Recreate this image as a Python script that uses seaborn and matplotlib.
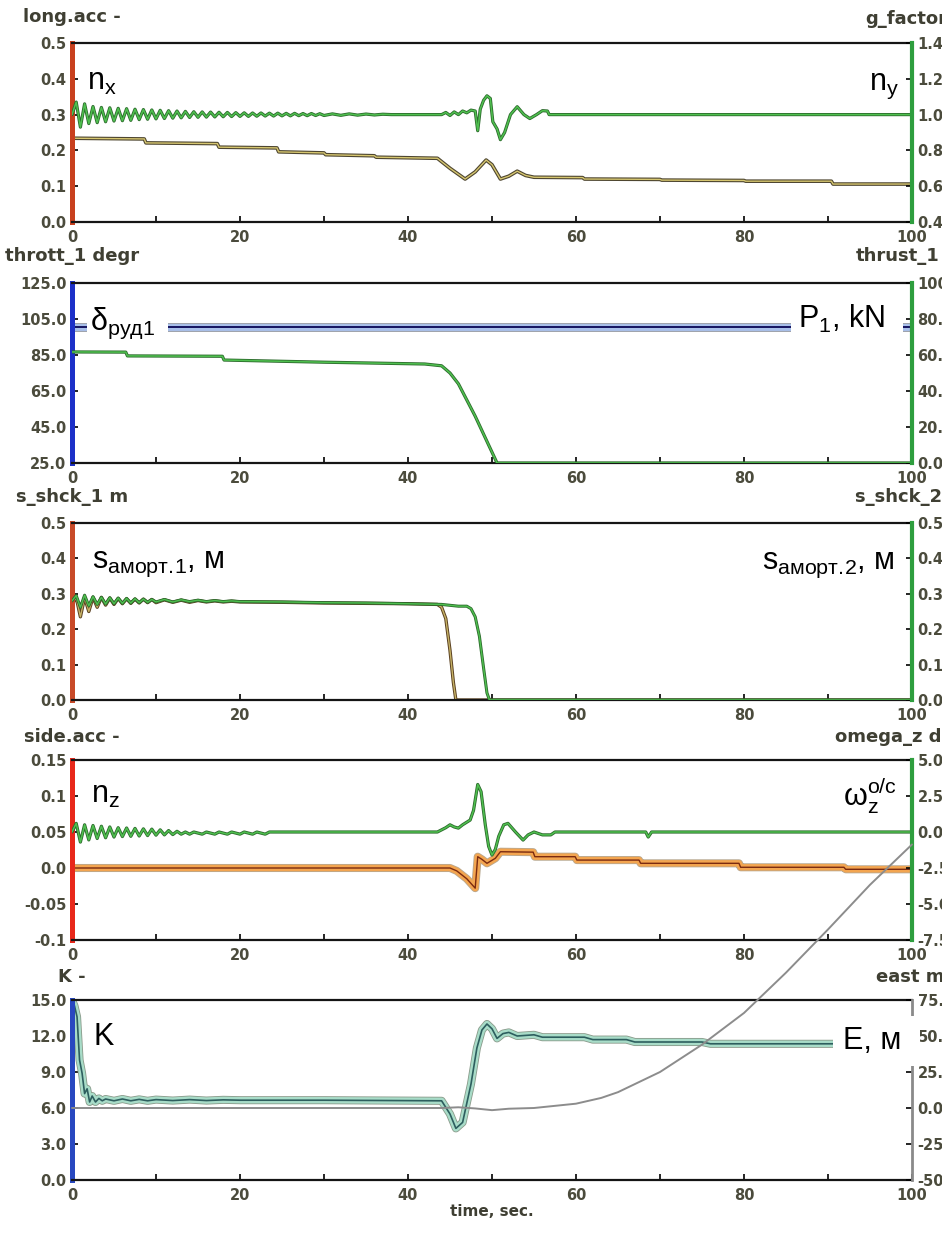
import matplotlib
matplotlib.use("Agg")
import matplotlib.pyplot as plt
import matplotlib.patheffects as pe
import seaborn as sns

# ---- values ----
time_ticks = [0, 20, 40, 60, 80, 100]
time_minor = [10, 30, 50, 70, 90]

# panel 1: long.acc (left) / g_factor (right)
nx_t = [0, 8.6, 8.8, 17.3, 17.5, 24.4, 24.6, 30.0, 30.2, 36.0, 36.2, 43.5,
        45.0, 46.8, 48.0, 49.3, 50.0, 51.0, 52.0, 53.0, 54.0, 55.0,
        60.8, 61.0, 70.0, 70.2, 80.0, 80.2, 90.4, 90.6, 100]
nx_v = [0.234, 0.232, 0.221, 0.219, 0.209, 0.207, 0.196, 0.193, 0.188, 0.185, 0.181, 0.178,
        0.15, 0.12, 0.14, 0.173, 0.16, 0.12, 0.128, 0.142, 0.13, 0.125,
        0.124, 0.12, 0.119, 0.117, 0.116, 0.114, 0.114, 0.106, 0.106]
gf_t = [0.0, 0.5, 1.0, 1.5, 2.0, 2.5, 3.0, 3.5, 4.0, 4.5, 5.0, 5.5, 6.0, 6.5, 7.0, 7.5,
        8.0, 8.5, 9.0, 9.5, 10.0, 10.5, 11.0, 11.5, 12.0, 12.5, 13.0, 13.5, 14.0, 14.5,
        15.0, 15.5, 16.0, 16.5, 17.0, 17.5, 18.0, 18.5, 19.0, 19.5, 20.0,
        20.5, 21.0, 21.5, 22.0, 22.5, 23.0, 23.5, 24.0, 24.5, 25.0, 25.5, 26.0, 26.5,
        27.0, 27.5, 28.0, 28.5, 29.0, 29.5, 30.0,
        31, 32, 33, 34, 35, 36, 37, 38,
        44.0, 44.5, 45.0, 45.5, 46.0, 46.5, 47.0, 47.5, 48.0, 48.3, 48.6, 49.0, 49.4,
        49.8, 50.1, 50.6, 51.0, 51.5, 52.2, 53.0, 53.8, 54.5, 55.3, 56.0, 56.6, 56.8, 100]
gf_v = [1.00, 1.07, 0.93, 1.06, 0.95, 1.045, 0.955, 1.04, 0.96, 1.038, 0.964, 1.035,
        0.966, 1.033, 0.968, 1.03, 0.972, 1.028, 0.974, 1.026, 0.976, 1.024, 0.978,
        1.022, 0.98, 1.02, 0.982, 1.018, 0.984, 1.016, 0.985, 1.015, 0.986, 1.014,
        0.987, 1.013, 0.988, 1.012, 0.989, 1.011, 0.99,
        1.01, 0.99, 1.009, 0.991, 1.009, 0.992, 1.008, 0.992, 1.008, 0.993, 1.007,
        0.993, 1.007, 0.994, 1.006, 0.994, 1.006, 0.995, 1.005, 0.995,
        1.004, 0.996, 1.004, 0.997, 1.003, 0.998, 1.002, 1.0,
        1.0, 1.012, 0.995, 1.015, 1.0, 1.02, 1.01, 1.025, 1.02, 0.91, 1.03, 1.08, 1.105,
        1.09, 0.96, 0.92, 0.86, 0.9, 1.0, 1.044, 1.0, 0.978, 1.0, 1.022, 1.02, 1.0, 1.0]

# panel 2: thrott_1 (left) / thrust_1 (right)
thr_t = [0, 100]
thr_v = [100.5, 100.5]
th_t = [0, 6.4, 6.6, 17.9, 18.1, 30, 42, 44, 45, 46, 47, 48, 49, 50, 50.6, 100]
th_v = [61.7, 61.6, 59.5, 59.3, 57.2, 56, 55, 54, 50, 44, 35, 26, 16, 6, 0, 0]

# panel 3: s_shck_1 (left) / s_shck_2 (right)
s1_t = [0, 0.5, 1.0, 1.5, 2.0, 2.5, 3.0, 3.5, 4.0, 4.5, 5.0, 5.5, 6.0, 6.5, 7.0, 7.5,
        8.0, 8.5, 9.0, 9.5, 10, 11, 12, 13, 14, 15, 16, 17, 18, 19, 20, 25, 30, 35, 40,
        43.5, 44.0, 44.5, 45.0, 45.4, 45.7, 100]
s1_v = [0.27, 0.29, 0.235, 0.29, 0.25, 0.29, 0.262, 0.29, 0.268, 0.288, 0.27, 0.287,
        0.272, 0.286, 0.273, 0.285, 0.274, 0.285, 0.275, 0.284,
        0.275, 0.283, 0.276, 0.282, 0.276, 0.281, 0.277, 0.28, 0.277, 0.279, 0.277,
        0.276, 0.274, 0.273, 0.272,
        0.27, 0.262, 0.23, 0.14, 0.05, 0.0, 0.0]
s2_t = [0, 0.5, 1.0, 1.5, 2.0, 2.5, 3.0, 3.5, 4.0, 4.5, 5.0, 5.5, 6.0, 6.5, 7.0, 7.5,
        8.0, 8.5, 9.0, 9.5, 10, 11, 12, 13, 14, 15, 16, 17, 18, 19, 20, 25, 30, 35, 40,
        44, 46, 47.0, 47.5, 48.0, 48.5, 49.0, 49.4, 49.7, 100]
s2_v = [0.28, 0.295, 0.262, 0.296, 0.266, 0.292, 0.27, 0.29, 0.271, 0.289, 0.272, 0.288,
        0.273, 0.287, 0.274, 0.286, 0.275, 0.285, 0.276, 0.284,
        0.277, 0.284, 0.277, 0.283, 0.278, 0.282, 0.278, 0.281, 0.278, 0.28, 0.278,
        0.277, 0.275, 0.274, 0.272,
        0.27, 0.265, 0.265, 0.258, 0.235, 0.18, 0.09, 0.02, 0.0, 0.0]

# panel 4: side.acc (left) / omega_z (right)
nz_t = [0, 45.0, 45.8, 47.0, 48.0, 48.3, 48.8, 49.4, 50.4, 51.0, 54.9, 55.1, 59.9, 60.1,
        67.5, 67.7, 79.4, 79.6, 91.9, 92.1, 100]
nz_v = [0.0, 0.0, -0.004, -0.015, -0.028, 0.0157, 0.012, 0.0065, 0.0135, 0.0226, 0.022,
        0.0157, 0.0157, 0.011, 0.011, 0.0065, 0.0065, 0.001, 0.001, -0.0018, -0.0018]
wz_t = [0, 0.5, 1.0, 1.5, 2.0, 2.5, 3.0, 3.5, 4.0, 4.5, 5.0, 5.5, 6.0, 6.5, 7.0, 7.5,
        8.0, 8.5, 9.0, 9.5, 10.0, 10.5, 11.0, 11.5, 12.0, 12.5, 13.0, 13.5, 14.0, 14.5,
        15.5, 16.0, 17.0, 17.5, 18.5, 19.0, 20.0, 20.5, 21.5, 22.0, 23.0, 23.5,
        43.5, 44.5, 45.0, 45.5, 46.0, 46.5, 47.4, 47.8, 48.3, 48.7, 49.2, 49.6, 50.0,
        50.4, 50.8, 51.4, 51.9, 52.8, 53.7, 54.3, 55.0, 56.0, 57.0, 57.5, 68.3, 68.6,
        69.0, 100]
wz_v = [0.0, 0.6, -0.7, 0.5, -0.55, 0.45, -0.45, 0.4, -0.4, 0.35, -0.35, 0.3, -0.32,
        0.28, -0.3, 0.25, -0.28, 0.22, -0.25, 0.2, -0.22, 0.15, -0.2, 0.1, -0.18, 0.05,
        -0.15, 0.0, -0.15, 0.0,
        -0.15, 0.0, -0.15, 0.0, -0.15, 0.0, -0.15, 0.0, -0.15, 0.0, -0.15, 0.0,
        0.0, 0.3, 0.5, 0.35, 0.27, 0.5, 0.83, 1.5, 3.3, 2.8, 0.5, -1.0, -1.6, -1.2,
        -0.3, 0.5, 0.6, 0.0, -0.56, -0.2, 0.0, -0.2, -0.2, 0.0, 0.0, -0.35, 0.0, 0.0]

# panel 5: K (left) / east (right)
k_t = [0, 0.3, 0.6, 0.9, 1.2, 1.5, 1.8, 2.1, 2.4, 2.8, 3.2, 3.6, 4.0,
       5, 6, 7, 8, 9, 10, 12, 14, 16, 18, 20, 30,
       44.0, 45.0, 45.7, 46.5, 47.5, 48.2, 48.8, 49.4, 50.0, 50.6, 51.3, 52.0, 53.0,
       55.0, 56.0, 61.0, 62.0, 66.0, 67.0, 75.0, 76.0, 100]
k_v = [15.0, 14.5, 13.6, 10.0, 8.9, 7.2, 7.6, 6.5, 7.0, 6.5, 6.8, 6.6, 6.75,
       6.6, 6.75, 6.6, 6.72, 6.6, 6.7, 6.62, 6.7, 6.62, 6.68, 6.65, 6.65,
       6.6, 5.5, 4.3, 4.8, 8.0, 11.0, 12.5, 13.0, 12.6, 11.8, 12.2, 12.3, 12.0,
       12.1, 11.9, 11.9, 11.7, 11.7, 11.5, 11.5, 11.35, 11.35]
e_t = [0, 44, 46, 48, 50, 52, 55, 60, 63, 65, 70, 75, 80, 85, 90, 95, 100]
e_v = [0, 0, 0.5, -0.3, -1.5, -0.5, 0, 3, 7, 11, 25, 44, 66, 94, 124, 155, 183]

# axis ticks and labels
p1_lt = [0.0, 0.1, 0.2, 0.3, 0.4, 0.5]
p1_ll = ["0.0", "0.1", "0.2", "0.3", "0.4", "0.5"]
p1_rt = [0.4, 0.6, 0.8, 1.0, 1.2, 1.4]
p1_rl = ["0.4", "0.6", "0.8", "1.0", "1.2", "1.4"]
p2_lt = [25, 45, 65, 85, 105, 125]
p2_ll = ["25.0", "45.0", "65.0", "85.0", "105.0", "125.0"]
p2_rt = [0, 20, 40, 60, 80, 100]
p2_rl = ["0.0", "20.0", "40.0", "60.0", "80.0", "100.0"]
p3_lt = [0.0, 0.1, 0.2, 0.3, 0.4, 0.5]
p3_ll = ["0.0", "0.1", "0.2", "0.3", "0.4", "0.5"]
p3_rt = [0.0, 0.1, 0.2, 0.3, 0.4, 0.5]
p3_rl = ["0.0", "0.1", "0.2", "0.3", "0.4", "0.5"]
p4_lt = [-0.1, -0.05, 0.0, 0.05, 0.1, 0.15]
p4_ll = ["-0.1", "-0.05", "0.0", "0.05", "0.1", "0.15"]
p4_rt = [-7.5, -5.0, -2.5, 0.0, 2.5, 5.0]
p4_rl = ["-7.5", "-5.0", "-2.5", "0.0", "2.5", "5.0"]
p5_lt = [0, 3, 6, 9, 12, 15]
p5_ll = ["0.0", "3.0", "6.0", "9.0", "12.0", "15.0"]
p5_rt = [-50, -25, 0, 25, 50, 75]
p5_rl = ["-50.0", "-25.0", "0.0", "25.0", "50.0", "75.0"]

# ---- style ----
sns.set_style("white")
plt.rcParams["font.family"] = ["DejaVu Sans"]
plt.rcParams["mathtext.default"] = "regular"

W, H = 942, 1240
fig = plt.figure(figsize=(W / 100, H / 100), dpi=100)
fig.patch.set_facecolor("white")

TICK_COL = "#4b4b3c"


def box(top, bottom, left=72, right=912):
    return [left / W, 1 - bottom / H, (right - left) / W, (bottom - top) / H]


def panel(top, bottom, lcol, rcol, lt, ll, rt, rl, rw=3.0):
    ax = fig.add_axes(box(top, bottom))
    axr = ax.twinx()
    ax.set_xlim(0, 100)
    ax.set_ylim(lt[0], lt[-1])
    axr.set_ylim(rt[0], rt[-1])
    ax.set_xticks(time_ticks)
    ax.set_xticklabels([str(t) for t in time_ticks], fontweight="bold")
    ax.set_xticks(time_minor, minor=True)
    ax.set_yticks(lt)
    ax.set_yticklabels(ll, fontweight="bold")
    axr.set_yticks(rt)
    axr.set_yticklabels(rl, fontweight="bold")
    ax.tick_params(axis="both", which="both", direction="in", length=4, width=1.2,
                   color="black", labelsize=10.5, labelcolor=TICK_COL,
                   bottom=True, left=True, top=False, right=False, pad=4)
    ax.tick_params(axis="x", pad=6)
    axr.tick_params(axis="y", direction="in", length=4, width=1.2, color="black",
                    labelsize=10.5, labelcolor=TICK_COL, right=True, pad=4)
    for s in ("top", "bottom"):
        ax.spines[s].set_color("#151515")
        ax.spines[s].set_linewidth(1.6)
        axr.spines[s].set_visible(False)
    ax.spines["right"].set_visible(False)
    ax.spines["left"].set_color(lcol)
    ax.spines["left"].set_linewidth(3.6)
    axr.spines["left"].set_visible(False)
    axr.spines["right"].set_color(rcol)
    axr.spines["right"].set_linewidth(rw)
    return ax, axr


def line(ax, t, v, inner, outer, lw_in=1.2, lw_out=2.6, edge=None, **kw):
    fx = []
    if edge is not None:
        fx.append(pe.Stroke(linewidth=lw_out + 1.2, foreground=edge))
    fx += [pe.Stroke(linewidth=lw_out, foreground=outer), pe.Normal()]
    sns.lineplot(x=t, y=v, ax=ax, color=inner, lw=lw_in, estimator=None, sort=False,
                 path_effects=fx, **kw)


def finish(ax, axr, lt, rt):
    ax.set_xlim(0, 100)
    ax.set_ylim(lt[0], lt[-1])
    axr.set_ylim(rt[0], rt[-1])
    ax.set_xlabel("")
    ax.set_ylabel("")
    axr.set_ylabel("")


def title(x, y, s, ha="center"):
    fig.text(x / W, 1 - y / H, s, ha=ha, va="baseline", fontsize=13,
             fontweight="bold", color="#3f3f33")


def note(x, y, s, ha="left", bg=False, pad=3):
    kw = {}
    if bg:
        kw["bbox"] = dict(facecolor="white", edgecolor="none", pad=pad)
    fig.text(x / W, 1 - y / H, s, ha=ha, va="baseline", fontsize=22, color="black",
             family=["Liberation Sans", "DejaVu Sans"], zorder=10, **kw)


GREEN_IN, GREEN_OUT = "#4fc04f", "#2c6a2c"
RSP = "#2e9e3e"

# panel 1
ax1, ax1r = panel(43, 222, "#c8401e", RSP, p1_lt, p1_ll, p1_rt, p1_rl)
line(ax1, nx_t, nx_v, "#d6c670", "#4e4630", lw_in=1.0, lw_out=2.6)
line(ax1r, gf_t, gf_v, GREEN_IN, GREEN_OUT, lw_in=1.1, lw_out=2.3)
finish(ax1, ax1r, p1_lt, p1_rt)

# panel 2
ax2, ax2r = panel(283, 463, "#1c30c8", RSP, p2_lt, p2_ll, p2_rt, p2_rl)
line(ax2, thr_t, thr_v, "#141460", "#a9c0ea", lw_in=1.4, lw_out=5.0, edge="#8a8f9a")
line(ax2r, th_t, th_v, GREEN_IN, GREEN_OUT, lw_in=1.1, lw_out=2.3)
finish(ax2, ax2r, p2_lt, p2_rt)

# panel 3
ax3, ax3r = panel(523, 700, "#c84a28", RSP, p3_lt, p3_ll, p3_rt, p3_rl)
line(ax3, s1_t, s1_v, "#c6b266", "#5a4020", lw_in=1.0, lw_out=2.4)
line(ax3r, s2_t, s2_v, GREEN_IN, GREEN_OUT, lw_in=1.0, lw_out=2.2)
finish(ax3, ax3r, p3_lt, p3_rt)

# panel 4
ax4, ax4r = panel(760, 940, "#e8281a", RSP, p4_lt, p4_ll, p4_rt, p4_rl)
line(ax4, nz_t, nz_v, "#7a2a10", "#f3a550", lw_in=1.0, lw_out=4.6, edge="#b8a890")
line(ax4r, wz_t, wz_v, GREEN_IN, GREEN_OUT, lw_in=1.1, lw_out=2.3)
finish(ax4, ax4r, p4_lt, p4_rt)

# panel 5
ax5, ax5r = panel(1000, 1180, "#2848c0", "#8a8a8a", p5_lt, p5_ll, p5_rt, p5_rl, rw=2.0)
line(ax5, k_t, k_v, "#2d5e5e", "#a8dcc8", lw_in=1.2, lw_out=4.6, edge="#8a9a8a")
sns.lineplot(x=e_t, y=e_v, ax=ax5r, color="#8c8c8c", lw=1.4, estimator=None,
             sort=False, clip_on=False)
finish(ax5, ax5r, p5_lt, p5_rt)

# axis titles
title(72, 22, "long.acc -")
title(865, 24, "g_factor", ha="left")
title(72, 261, "thrott_1 degr")
title(856, 261, "thrust_1", ha="left")
title(72, 502, "s_shck_1 m")
title(855, 502, "s_shck_2 m", ha="left")
title(72, 742, "side.acc -")
title(835, 742, "omega_z deg/s", ha="left")
title(72, 982, "K -")
title(876, 982, "east m", ha="left")
fig.text(492 / W, 1 - 1212 / H, "time, sec.", ha="center", va="center", fontsize=11,
         fontweight="bold", color="#3f3f33")

# curve names
note(87, 90, r"n$_x$")
note(899, 90, r"n$_y$", ha="right")
note(90, 330, r"$\delta_{руд1}$  ", bg=True, pad=2)
note(798, 328, r"P$_1$, kN  ", bg=True, pad=5)
note(92, 568, r"s$_{аморт.\!1}$, м")
note(762, 569, r"s$_{аморт.\!2}$, м")
note(91, 803, r"n$_z$")
note(843, 805, r"$\omega_z^{o/c}$")
note(93, 1045, "K")
note(843, 1049, "E, м ", bg=True, pad=7)

fig.savefig("out.png", dpi=100)
